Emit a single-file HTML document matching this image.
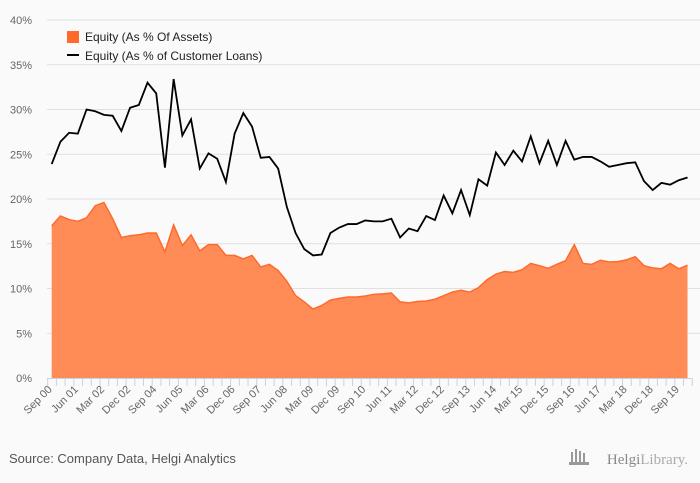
<!DOCTYPE html>
<html><head><meta charset="utf-8"><style>
body{margin:0;background:#fafafa;}
svg{display:block;font-family:"Liberation Sans",sans-serif;}
</style></head><body>
<svg id="chart" width="700" height="483" xmlns="http://www.w3.org/2000/svg">
<rect width="700" height="483" fill="#fafafa"/>
<g id="grid"></g><g id="area"></g><g id="xaxis"></g>
<g>
<rect x="67" y="31" width="12" height="12" fill="#ff6a2b"/>
<text x="85" y="41" font-size="12" fill="#222">Equity (As % Of Assets)</text>
<rect x="67" y="54" width="12" height="2" fill="#000"/>
<text x="85" y="60" font-size="12" fill="#222">Equity (As % of Customer Loans)</text>
</g>
<text x="9" y="463" font-size="13" fill="#555">Source: Company Data, Helgi Analytics</text>
<text x="688" y="464" font-size="15" fill="#888" text-anchor="end" font-family="Liberation Serif,serif">Helgi<tspan font-weight="normal" fill="#aaa">Library.</tspan></text>
<g fill="#999"><rect x="571" y="452" width="2" height="10"/><rect x="575" y="449" width="2" height="13"/><rect x="579" y="451" width="2" height="11"/><rect x="583" y="453" width="2" height="9"/><rect x="569" y="462" width="20" height="3"/></g>
</svg>
<script>
const categories=["Sep 00","Jun 01","Mar 02","Dec 02","Sep 04","Jun 05","Mar 06","Dec 06","Sep 07","Jun 08","Mar 09","Dec 09","Sep 10","Jun 11","Mar 12","Dec 12","Sep 13","Jun 14","Mar 15","Dec 15","Sep 16","Jun 17","Mar 18","Dec 18","Sep 19"];
const assetsPct=[17.0,18.1,17.7,17.5,17.9,19.25,19.6,17.8,15.7,15.9,16.0,16.2,16.2,14.1,17.1,14.8,16.0,14.2,14.9,14.9,13.7,13.7,13.3,13.7,12.4,12.7,12.0,10.8,9.2,8.5,7.7,8.1,8.7,8.9,9.05,9.05,9.16,9.35,9.4,9.5,8.5,8.4,8.55,8.6,8.8,9.2,9.6,9.8,9.6,10.1,11.0,11.6,11.9,11.8,12.1,12.8,12.55,12.25,12.7,13.1,14.9,12.8,12.7,13.15,12.96,13.0,13.2,13.55,12.55,12.3,12.2,12.8,12.2,12.6];
const loansPct=[23.9,26.4,27.4,27.3,30.0,29.8,29.4,29.3,27.6,30.2,30.5,33.0,31.8,23.5,33.4,27.1,28.9,23.4,25.1,24.5,21.9,27.3,29.6,28.1,24.6,24.7,23.4,19.1,16.2,14.4,13.7,13.8,16.2,16.8,17.2,17.2,17.6,17.5,17.5,17.8,15.7,16.7,16.4,18.1,17.65,20.4,18.4,21.0,18.2,22.2,21.5,25.2,23.8,25.4,24.2,27.0,24.0,26.5,23.8,26.5,24.4,24.7,24.7,24.2,23.6,23.8,24.0,24.1,22.0,21.0,21.8,21.6,22.1,22.4];
const yTicks=[0,5,10,15,20,25,30,35,40];
const NS="http://www.w3.org/2000/svg";
const x=i=>51.7+i*8.71;
const y=v=>378-v*8.95;
function mk(tag,attrs,parent){const e=document.createElementNS(NS,tag);for(const k in attrs)e.setAttribute(k,attrs[k]);parent.appendChild(e);return e;}
const grid=document.getElementById('grid'),area=document.getElementById('area'),xa=document.getElementById('xaxis');
yTicks.forEach(t=>{
 if(t>0){const l=mk('line',{x1:47,x2:700,y1:y(t),y2:y(t),stroke:'#e0e0e0','stroke-width':1},grid);
 
 }
 const tx=mk('text',{x:32,y:y(t)+4,'font-size':11,fill:'#666','text-anchor':'end'},grid);
 tx.textContent=t+'%';
 
 
});
const n=assetsPct.length;
let d='M'+x(0)+','+y(0);
assetsPct.forEach((v,i)=>{d+=' L'+x(i)+','+y(v);});
d+=' L'+x(n-1)+','+y(0)+' Z';
const ar=mk('path',{d:d,fill:'#ff8c57'},area);


const al=mk('polyline',{points:assetsPct.map((v,i)=>x(i)+','+y(v)).join(' '),fill:'none',stroke:'#ff6a2b','stroke-width':1.5},area);


const ll=mk('polyline',{points:loansPct.map((v,i)=>x(i)+','+y(v)).join(' '),fill:'none',stroke:'#000','stroke-width':1.8},area);


const ax=mk('line',{x1:47,x2:x(n-1)+4,y1:378.5,y2:378.5,stroke:'#c5d3e8'},xa);


for(let i=0;i<n+1;i++){const tk=mk('line',{x1:x(i)-4,x2:x(i)-4,y1:378,y2:386,stroke:'#c5d3e8'},xa);

}
categories.forEach((c,j)=>{const xi=x(j*3)+1;
 const t=mk('text',{x:xi,y:390,'font-size':11,fill:'#666','text-anchor':'end',transform:'rotate(-45 '+xi+' 390)'},xa);
 t.textContent=c;
 
 });
</script>
</body></html>
